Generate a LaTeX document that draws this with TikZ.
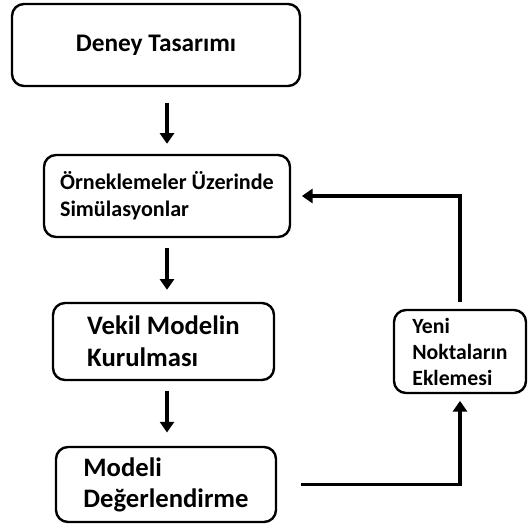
\documentclass[tikz,border=0pt]{standalone}
\usepackage{fontspec}
\setmainfont{Carlito}
\usepackage{tikz}
\usetikzlibrary{arrows.meta,positioning,calc}

\begin{document}
\begin{tikzpicture}[
  x=0.75pt, y=-0.75pt,
  font=\bfseries\fontsize{20}{24}\selectfont,
  box/.style={draw, line width=1.8pt, rounded corners=9pt, align=left, inner sep=0pt},
  small/.style={font=\bfseries\fontsize{16.6}{20}\selectfont},
  arrow/.style={-{Triangle[length=8pt, width=10.5pt]}, line width=2.5pt}
]
\useasboundingbox (0,0) rectangle (530,524);

\node[box, minimum width=216pt, minimum height=61.5pt, font=\bfseries\fontsize{19}{24}\selectfont] (Deney) at (156,45) {Deney Tasarımı};
\node[box, small, minimum width=184.5pt, minimum height=61.5pt] (Sim) at (167,196) {Örneklemeler Üzerinde\\Simülasyonlar};
\node[box, minimum width=165.75pt, minimum height=57.75pt] (Vekil) at (163.5,341.5) {Vekil Modelin\\Kurulması};
\node[box, minimum width=165pt, minimum height=56.25pt, font=\bfseries\fontsize{20}{23.25}\selectfont] (Deger) at (166,484.5) {Modeli\\Değerlendirme};
\node[box, small, minimum width=99pt, minimum height=62.25pt, font=\bfseries\fontsize{16.3}{19.5}\selectfont] (Yeni) at (460,351.5) {Yeni\\Noktaların\\Eklemesi};

\draw[arrow, shorten <=12pt, shorten >=7.5pt] (Sim.north |- Deney.south) -- (Sim.north);
\draw[arrow, shorten <=7.5pt, shorten >=9pt] (Sim.south) -- (Sim.south |- Vekil.north);
\draw[arrow, shorten <=7.5pt, shorten >=10pt] (Sim.south |- Vekil.south) -- (Sim.south |- Deger.north);
\draw[arrow, shorten <=18pt, shorten >=5pt] (Deger.east) -| (Yeni.south);
\draw[arrow, shorten <=5pt, shorten >=8pt] (Yeni.north) |- (Sim.east);
\end{tikzpicture}
\end{document}
